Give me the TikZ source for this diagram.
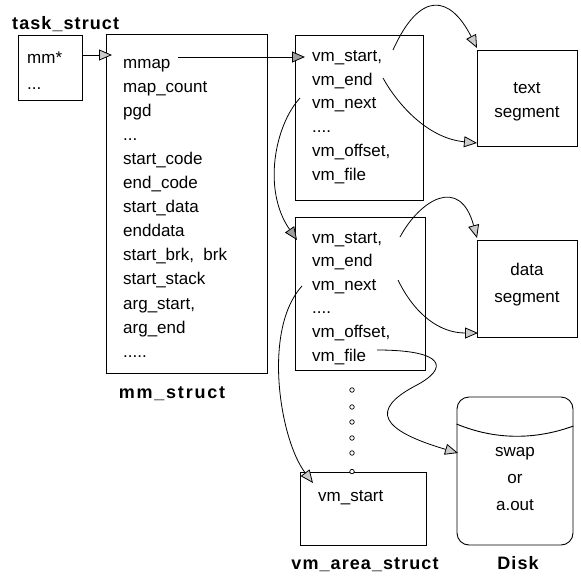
\documentclass[tikz,border=0pt]{standalone}
\usepackage{fontspec}
\setmainfont{Liberation Sans}
\usetikzlibrary{arrows.meta,calc}
\newcommand\myDotsThree{...}
\newcommand\myDotsFour{....}
\newcommand\myDotsFive{.....}
\begin{document}
\begin{tikzpicture}[x=1pt,y=-1pt,
  box/.style={draw,line width=0.9pt,inner sep=0pt},
  txt/.style={anchor=base west,inner sep=0pt,font=\fontsize{17}{20}\selectfont},
  ctxt/.style={anchor=base,inner sep=0pt,font=\fontsize{17}{20}\selectfont},
  lbl/.style={anchor=base,inner sep=0pt,font=\fontsize{18}{20}\selectfont\bfseries\addfontfeature{LetterSpace=6}},
  conn/.style={line width=0.8pt},
  lightarr/.style={conn,-{Triangle[length=13pt,width=11pt,fill=gray!40]}},
  darkarr/.style={conn,-{Triangle[length=13pt,width=11pt,fill=gray!75]}},
  dot/.style={circle,draw,line width=0.7pt,inner sep=0pt,minimum size=4.5pt,fill=white},
]
\useasboundingbox (0,0) rectangle (581,576);

% ---- boxes ----
\node[box,minimum width=64pt,minimum height=65pt] (task) at (50,67.5) {};
\node[box,minimum width=161pt,minimum height=339pt] (mmbox) at (186.5,203.5) {};
\node[box,minimum width=128pt,minimum height=165pt] (vma) at (359,117.5) {};
\node[box,minimum width=130pt,minimum height=153pt] (vmb) at (360,293.5) {};
\node[box,minimum width=126pt,minimum height=73pt] (vmc) at (363,508.5) {};
\node[box,minimum width=100pt,minimum height=96pt] (textseg) at (527,98) {};
\node[box,minimum width=100pt,minimum height=97pt] (dataseg) at (527,288.5) {};
\node[box,rounded corners=12pt,minimum width=116pt,minimum height=148pt] (disk) at (515,471) {};
\draw[line width=0.9pt] (disk.west |- 0,424) .. controls (495,440) and (535,440) .. (disk.east |- 0,426);

% ---- labels ----
\node[lbl,anchor=base west] (ltask) at (12,29) {task\_struct};
\node[lbl,font=\fontsize{18}{20}\selectfont\bfseries\addfontfeature{LetterSpace=10}] (lmm) at (172,398) {mm\_struct};
\node[lbl] (lvm) at (365,569) {vm\_area\_struct};
\node[lbl] (ldisk) at (518,569) {Disk};

% ---- texts ----
\node[txt] (t1) at (27,63) {mm*};
\node[txt] (t2) at (27,89) {\myDotsThree};
\foreach \t [count=\i] in {mmap,map\_count,pgd,\myDotsThree,start\_code,end\_code,start\_data,enddata,{start\_brk,\ \ brk},start\_stack,{arg\_start,},arg\_end,\myDotsFive}
  \node[txt] (mm-\i) at (123,{68+24.1*(\i-1)}) {\t};
\foreach \t [count=\i] in {{vm\_start,},vm\_end,vm\_next,\myDotsFour,{vm\_offset,},vm\_file}
  \node[txt] (va-\i) at (312,{61.5+23.7*(\i-1)}) {\t};
\foreach \t [count=\i] in {{vm\_start,},vm\_end,vm\_next,\myDotsFour,{vm\_offset,},vm\_file}
  \node[txt] (vb-\i) at (312,{243+23.6*(\i-1)}) {\t};
\node[txt] (vc-1) at (318,501) {vm\_start};
\node[ctxt] (ts1) at (527,93) {text};
\node[ctxt] (ts2) at (527,117) {segment};
\node[ctxt] (ds1) at (527,275) {data};
\node[ctxt] (ds2) at (527,302) {segment};
\node[ctxt] (dk1) at (515,456) {swap};
\node[ctxt] (dk2) at (515,483) {or};
\node[ctxt] (dk3) at (515,510) {a.out};

% ---- dots ----
\foreach \y [count=\i] in {390,407,422,438,453}
  \node[dot] (d-\i) at (352,\y) {};
\node[dot] (d-6) at (vmc.north -| d-1) {};

% ---- connector endpoints ----
\coordinate (mmin) at (112,55);
\coordinate (mmapout) at (178,57);
\coordinate (vain) at (305,57);
\coordinate (a1s) at (393,50);
\coordinate (a1e) at (477,48);
\coordinate (a2s) at (383,78);
\coordinate (a2e) at (477,143);
\coordinate (b1s) at (400,237);
\coordinate (b1e) at (477,238);
\coordinate (b2s) at (398,280);
\coordinate (b2e) at (478,333);
\coordinate (n1s) at (300,98);
\coordinate (n1e) at (297,240);
\coordinate (n2s) at (302,286);
\coordinate (n2e) at (313,483);
\coordinate (fs) at (377,350);
\coordinate (fm) at (415,386);
\coordinate (fe) at (458,453);

% ---- connectors ----
\draw[lightarr] (task.east |- mmin) -- (mmin);
\draw[darkarr] (mmapout) -- (vain);
\draw[lightarr] (a1s) .. controls (420,-10) and (450,-5) .. (a1e);
\draw[lightarr] (a2s) .. controls (395,100) and (425,138) .. (a2e);
\draw[lightarr] (b1s) .. controls (420,200) and (460,175) .. (b1e);
\draw[lightarr] (b2s) .. controls (415,315) and (440,333) .. (b2e);
\draw[darkarr] (n1s) .. controls (275,125) and (262,190) .. (n1e);
\draw[lightarr] (n2s) .. controls (262,330) and (280,440) .. (n2e);
\draw[lightarr] (fs) .. controls (445,350) and (450,368) .. (fm)
  .. controls (370,410) and (380,430) .. (fe);
\end{tikzpicture}
\end{document}
